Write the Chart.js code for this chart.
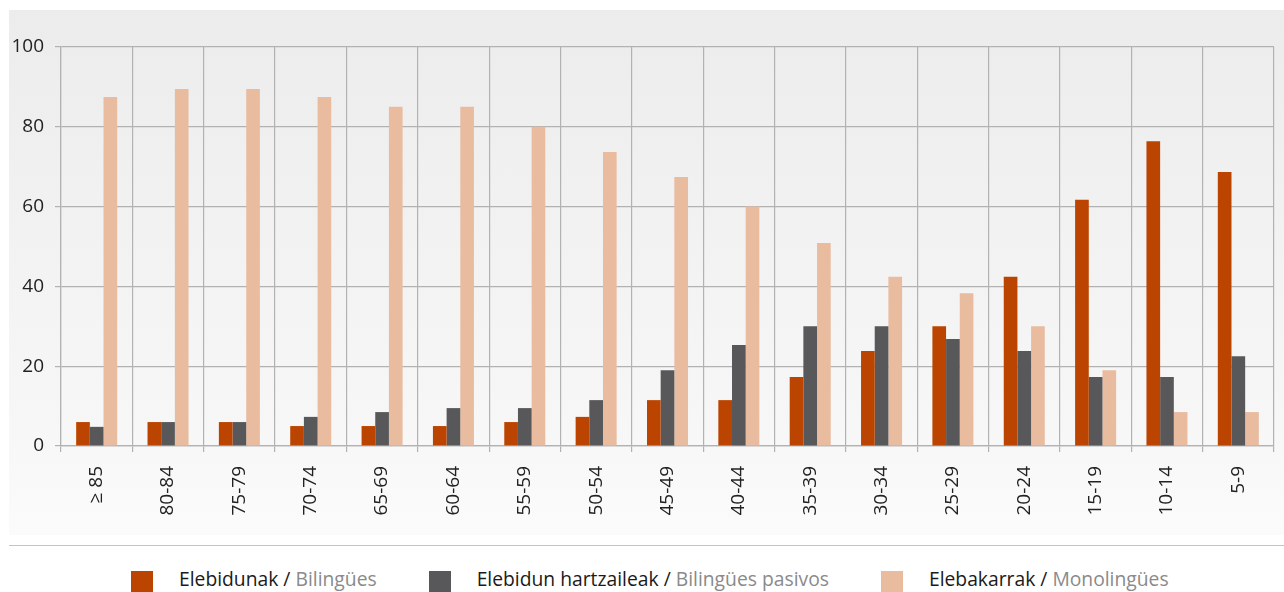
<!DOCTYPE html>
<html>
<head>
<meta charset="utf-8">
<script src="https://cdn.jsdelivr.net/npm/chart.js@4/dist/chart.umd.min.js"></script>
<style>
    body { margin: 0; width: 1284px; height: 592px; background: #fff; position: relative; overflow: hidden; font-family: "Open Sans", sans-serif; }
    #panel { position: absolute; left: 9px; top: 10px; width: 1275px; height: 525px; background: linear-gradient(#ececed, #f7f7f7 80%, #fbfbfb); }
    #rule { position: absolute; left: 9px; top: 545px; width: 1275px; height: 1px; background: #c4c4c4; }
    #chart { position: absolute; left: 0; top: 0; }
    #legend { position: absolute; left: 131px; top: 567px; display: flex; font-size: 19.3px; line-height: 24px; white-space: nowrap; }
    .item { display: flex; align-items: flex-start; margin-right: 52px; }
    .box { width: 22px; height: 22px; margin-top: 4px; margin-right: 26px; }
    .eu { color: #1a1a1a; }
    .es { color: #8a8a8a; }
</style>
</head>
<body>
<div id="panel"></div>
<div id="rule"></div>
<canvas id="chart" width="1284" height="540"></canvas>
<div id="legend"></div>
<script>
const ageGroups = ['≥ 85', '80-84', '75-79', '70-74', '65-69', '60-64', '55-59', '50-54', '45-49',
    '40-44', '35-39', '30-34', '25-29', '20-24', '15-19', '10-14', '5-9'];

const bilingual = [6, 6, 6, 5, 5, 5, 6, 7.3, 11.5, 11.5, 17.3, 23.8, 30, 42.4, 61.7, 76.4, 68.7];
const passiveBilingual = [4.8, 6, 6, 7.3, 8.5, 9.5, 9.5, 11.5, 19, 25.3, 30, 30, 26.8, 23.8, 17.3, 17.3, 22.5];
const monolingual = [87.5, 89.5, 89.5, 87.5, 85, 85, 80, 73.7, 67.4, 60, 50.9, 42.4, 38.3, 30, 19, 8.5, 8.5];

const seriesNames = [
    ['Elebidunak', 'Bilingües'],
    ['Elebidun hartzaileak', 'Bilingües pasivos'],
    ['Elebakarrak', 'Monolingües']
];
const seriesColors = ['#bb4400', '#58585a', '#e9bca0'];

const gridColor = '#b2b2b2';

const chart = new Chart(document.getElementById('chart'), {
    type: 'bar',
    data: {
        labels: ageGroups,
        datasets: [bilingual, passiveBilingual, monolingual].map((values, i) => ({
            label: seriesNames[i].join(' / '),
            data: values,
            backgroundColor: seriesColors[i],
            categoryPercentage: 0.575,
            barPercentage: 1.0
        }))
    },
    options: {
        responsive: false,
        devicePixelRatio: 1,
        animation: false,
        layout: {
            padding: { top: 47, right: 10, left: 0, bottom: 0 }
        },
        scales: {
            x: {
                grid: { color: gridColor, lineWidth: 1.2, tickLength: 6, offset: true },
                border: { color: gridColor, width: 1.2 },
                ticks: {
                    color: '#222',
                    font: { family: 'Open Sans', size: 19 },
                    minRotation: 90,
                    maxRotation: 90,
                    padding: 14,
                    autoSkip: false
                },
                afterFit: function(scale) {
                    scale.height = 94;
                    scale.paddingLeft = 0;
                    scale.paddingRight = 0;
                }
            },
            y: {
                min: 0,
                max: 100,
                grid: { color: gridColor, lineWidth: 1.2, tickLength: 6 },
                border: { color: gridColor, width: 1.2 },
                ticks: {
                    stepSize: 20,
                    color: '#222',
                    font: { family: 'Open Sans', size: 19 },
                    padding: 11
                },
                afterFit: function(scale) {
                    scale.width = 61;
                    scale.paddingTop = 0;
                    scale.paddingBottom = 0;
                }
            }
        },
        plugins: {
            legend: { display: false },
            tooltip: { enabled: false }
        }
    }
});

// legend with two-tone labels (Basque / Spanish)
const legend = document.getElementById('legend');
chart.data.datasets.forEach((ds, i) => {
    const item = document.createElement('div');
    item.className = 'item';
    item.innerHTML = '<div class="box" style="background:' + ds.backgroundColor + '"></div>' +
        '<span><span class="eu">' + seriesNames[i][0] + ' / </span>' +
        '<span class="es">' + seriesNames[i][1] + '</span></span>';
    legend.appendChild(item);
});
</script>
</body>
</html>
